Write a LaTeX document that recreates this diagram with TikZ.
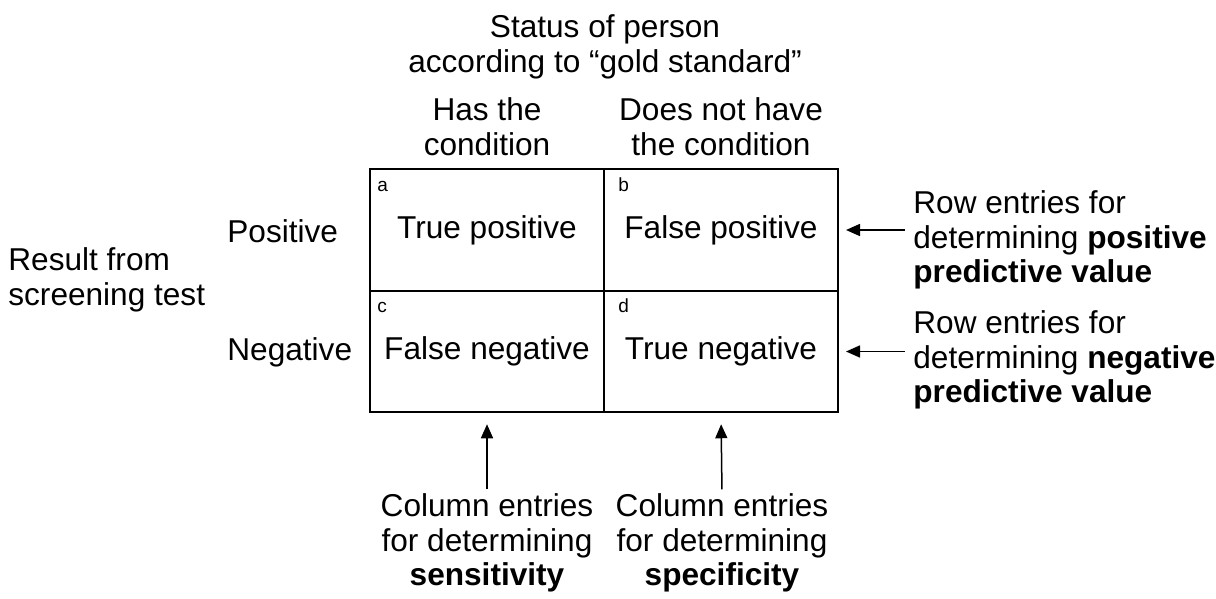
\documentclass[tikz,border=0pt]{standalone}
\usepackage{fontspec}
\setmainfont{Liberation Sans}
\usetikzlibrary{arrows.meta}

\begin{document}
\begin{tikzpicture}[x=0.5pt, y=-0.5pt,
  txt/.style={font=\fontsize{15.8}{17.3}\selectfont, align=center, inner sep=0pt},
  cell/.style={draw, line width=1pt, minimum width=117pt, minimum height=60.75pt, inner sep=0pt, font=\fontsize{15.8}{17.3}\selectfont},
  corner/.style={font=\fontsize{9.5}{11}\selectfont, anchor=base west, inner sep=0pt},
  ptr/.style={line width=0.75pt, -{Triangle[length=7pt, width=6pt]}}]
\useasboundingbox (0,0) rectangle (1216,599);

\node[txt] (status) at (605,47) {Status of person\\according to “gold standard”};
\node[txt] (hascond) at (487,127) {Has the\\condition};
\node[txt] (nothave) at (721,127) {Does not have\\the condition};

\node[cell] (tp) at (487,230) {True positive\hspace{11pt}};
\node[cell] (fp) at (721,230) {False positive};
\node[cell] (fn) at (487,351.5) {False negative};
\node[cell] (tn) at (721,351.5) {True negative};
\node[corner] (la) at ([shift={(8,23)}]tp.north west) {a};
\node[corner] (lb) at ([shift={(15,23)}]fp.north west) {b};
\node[corner] (lc) at ([shift={(8,23)}]fn.north west) {c};
\node[corner] (ld) at ([shift={(15,23)}]tn.north west) {d};

\node[txt, anchor=west] (pos) at (227,231) {Positive};
\node[txt, anchor=west] (neg) at (227,352) {Negative};
\node[txt, anchor=west, align=left] (result) at (8,280) {Result from\\screening test};

\node[txt, anchor=west, align=left] (ppv) at (913,240) {Row entries for\\determining \textbf{positive}\\\textbf{predictive value}};
\node[txt, anchor=west, align=left] (npv) at (913,360) {Row entries for\\determining \textbf{negative}\\\textbf{predictive value}};
\node[txt] (sens) at (487,543) {Column entries\\for determining\\\textbf{sensitivity}};
\node[txt] (spec) at (722,543) {Column entries\\for determining\\\textbf{specificity}};

\draw[ptr, shorten <=4pt, shorten >=3.5pt] (fp.east -| ppv.west) -- (fp.east);
\draw[ptr, shorten <=4pt, shorten >=3.5pt] (tn.east -| npv.west) -- (tn.east);
\draw[ptr, shorten <=2pt, shorten >=5.5pt] (sens.north) -- (fn.south);
\draw[ptr, shorten <=2pt, shorten >=5.5pt] (spec.north) -- (tn.south);
\end{tikzpicture}
\end{document}
